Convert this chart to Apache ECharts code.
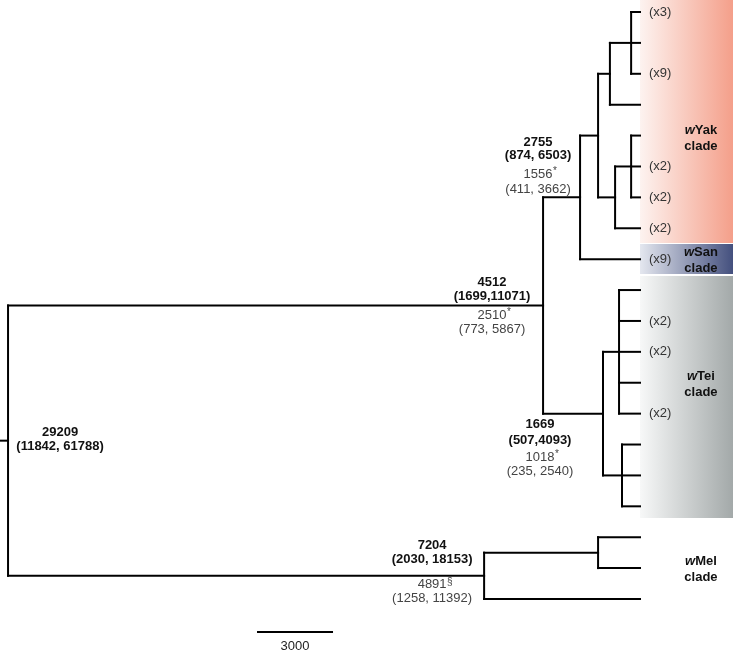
<!DOCTYPE html>
<html><head><meta charset="utf-8">
<script src="https://cdn.jsdelivr.net/npm/echarts@6/dist/echarts.min.js"></script>
<style>html,body{margin:0;padding:0;background:#fff}#c{width:733px;height:651px}</style>
</head><body><div id="c"></div>
<script>
// ---- data ----
const tipLabels = ['(x3)','','(x9)','','','(x2)','(x2)','(x2)','(x9)','','(x2)','(x2)','','(x2)','','','','','',''];
const nodeIds = ['A','B','C','D','E','F','G','H','I','J','K','L','R'];
const nodeAges = [360,1220,360,1010,1700,2430,850,730,1500,3930,1700,6320,25620];
const nodeChildren = [
  ['t0','t1','t2'], ['A','t3'], ['t4','t5','t6'], ['C','t7'], ['B','D'], ['E','t8'],
  ['t9','t10','t11','t12','t13'], ['t14','t15','t16'], ['G','H'], ['F','I'],
  ['t17','t18'], ['K','t19'], ['J','L']
];
const rootStubAge = 25946;
const labelNodes = ['R','J','F','I','L'];
const estMain = ['29209','4512','2755','1669','7204'];
const estCI = ['(11842, 61788)','(1699,11071)','(874, 6503)','(507,4093)','(2030, 18153)'];
const altMain = ['','2510','1556','1018','4891'];
const altMark = ['','*','*','*','§'];
const altCI = ['','(773, 5867)','(411, 3662)','(235, 2540)','(1258, 11392)'];
const cladeNames = ['Yak','San','Tei','Mel'];
const cladeFirstTip = [0,8,9,17];
const cladeLastTip = [7,8,16,19];
const cladeColors = [['#fdf3f0','#f49f8a'],['#e4e7ef','#44507e'],['#f7f8f8','#a3a9a9'],null];
const scaleBarValue = 3000;
const scaleBarLabel = '3000';

// ---- layout / style ----
const FONT = '"Liberation Sans", Arial, sans-serif';
const bandPadTop = [0.39,0.49,0.455];
const bandPadBottom = [0.48,0.48,0.38];
const cladeLabelY = [4.08,8.05,12.07,18.04];
const cladeLabelAge = -2470;
const labelLayout = {
  R:{dx:52, dy:[-8,6]},
  J:{dx:-51, dy:[-23,-9,10,24]},
  F:{dx:-42, dy:[-55,-42,-23,-8]},
  I:{dx:-63, dy:[11,27,44,58]},
  L:{dx:-52, dy:[-30,-16,9,23]}
};
const scaleBarRightAge = 12486, scaleBarRow = 20.07;

// ---- helpers ----
const idx = {}; nodeIds.forEach((id,i)=>idx[id]=i);
const yMemo = {};
function yOf(id){
  if (id[0]==='t') return parseInt(id.slice(1));
  if (yMemo[id]!==undefined) return yMemo[id];
  const ch = nodeChildren[idx[id]];
  const v = (yOf(ch[0]) + yOf(ch[ch.length-1]))/2;
  yMemo[id]=v; return v;
}
function ageOf(id){ return id[0]==='t' ? 0 : nodeAges[idx[id]]; }
const nodeY = nodeIds.map(yOf);

const LINE = {stroke:'#000', lineWidth:2, lineCap:'square'};
function seg(a,b){ return {type:'line', shape:{x1:a[0],y1:a[1],x2:b[0],y2:b[1]}, style:LINE}; }

const chart = echarts.init(document.getElementById('c'), null, {renderer:'canvas'});
chart.setOption({
  animation:false,
  grid:{left:0,right:0,top:0,bottom:0},
  xAxis:{type:'value', inverse:true, min:-3770, max:rootStubAge, show:false},
  yAxis:{type:'value', inverse:true, min:-0.3884, max:20.683, show:false},
  series:[
    { // clade bands
      type:'custom', z:1, silent:true,
      data: cladeNames.map((n,i)=>[i]).filter((d)=>cladeColors[d[0]]),
      renderItem(params, api){
        const i = api.value(0);
        const p1 = api.coord([0, cladeFirstTip[i]-bandPadTop[i]]);
        const p2 = api.coord([-3770, cladeLastTip[i]+bandPadBottom[i]]);
        return {type:'rect', shape:{x:p1[0], y:p1[1], width:p2[0]-p1[0], height:p2[1]-p1[1]},
          style:{fill:{type:'linear',x:0,y:0,x2:1,y2:0,colorStops:[
            {offset:0,color:cladeColors[i][0]},{offset:1,color:cladeColors[i][1]}]}}};
      }
    },
    { // branches
      type:'custom', z:3, silent:true,
      data: nodeIds.map((id,i)=>[nodeAges[i], nodeY[i]]),
      renderItem(params, api){
        const i = params.dataIndex, id = nodeIds[i], age = nodeAges[i], ch = nodeChildren[i];
        const kids = [];
        kids.push(seg(api.coord([age, yOf(ch[0])]), api.coord([age, yOf(ch[ch.length-1])])));
        ch.forEach(c=>{ const yc=yOf(c); kids.push(seg(api.coord([age,yc]), api.coord([ageOf(c),yc]))); });
        if (id==='R') kids.push(seg(api.coord([rootStubAge, nodeY[i]]), api.coord([age, nodeY[i]])));
        return {type:'group', children:kids};
      }
    },
    { // tip labels
      type:'custom', z:4, silent:true,
      data: tipLabels.map((t,i)=>[0,i]),
      renderItem(params, api){
        const t = tipLabels[params.dataIndex];
        if (!t) return null;
        const p = api.coord([api.value(0), api.value(1)]);
        return {type:'text', style:{text:t, x:p[0]+9, y:p[1], align:'left', verticalAlign:'middle',
          font:'13px '+FONT, fill:'#333'}};
      }
    },
    { // node estimate labels
      type:'custom', z:4, silent:true,
      data: labelNodes.map(id=>[nodeAges[idx[id]], nodeY[idx[id]]]),
      renderItem(params, api){
        const k = params.dataIndex, id = labelNodes[k], L = labelLayout[id];
        const p = api.coord([api.value(0), api.value(1)]);
        const cx = p[0]+L.dx, kids = [];
        const txt = (s,dy,bold,col)=>({type:'text', style:{text:s, x:cx, y:p[1]+dy, align:'center', verticalAlign:'middle',
          font:(bold?'bold ':'')+'13px '+FONT, fill:col}});
        kids.push(txt(estMain[k], L.dy[0], true, '#111'));
        kids.push(txt(estCI[k], L.dy[1], true, '#111'));
        if (altMain[k]) {
          kids.push(txt(altMain[k], L.dy[2], false, '#444'));
          kids.push({type:'text', style:{text:altMark[k], x:cx+15, y:p[1]+L.dy[2]-3, align:'left', verticalAlign:'middle',
            font:'10px '+FONT, fill:'#444'}});
          kids.push(txt(altCI[k], L.dy[3], false, '#444'));
        }
        return {type:'group', children:kids};
      }
    },
    { // clade labels
      type:'custom', z:5, silent:true,
      data: cladeNames.map((n,i)=>[cladeLabelAge, cladeLabelY[i]]),
      renderItem(params, api){
        const i = params.dataIndex;
        const p = api.coord([api.value(0), api.value(1)]);
        return {type:'text', style:{text:'{i|w}{b|'+cladeNames[i]+'}\n{b|clade}', x:p[0], y:p[1],
          align:'center', verticalAlign:'middle', fill:'#111',
          rich:{ i:{font:'italic bold 13px '+FONT, fill:'#111', lineHeight:16},
                 b:{font:'bold 13px '+FONT, fill:'#111', lineHeight:16} }}};
      }
    },
    { // scale bar
      type:'custom', z:4, silent:true,
      data:[[scaleBarRightAge, scaleBarRow]],
      renderItem(params, api){
        const a = api.coord([api.value(0)+scaleBarValue, api.value(1)]);
        const b = api.coord([api.value(0), api.value(1)]);
        return {type:'group', children:[
          seg(a,b),
          {type:'text', style:{text:scaleBarLabel, x:(a[0]+b[0])/2, y:a[1]+14, align:'center', verticalAlign:'middle',
            font:'13px '+FONT, fill:'#222'}}
        ]};
      }
    }
  ]
});
</script></body></html>
